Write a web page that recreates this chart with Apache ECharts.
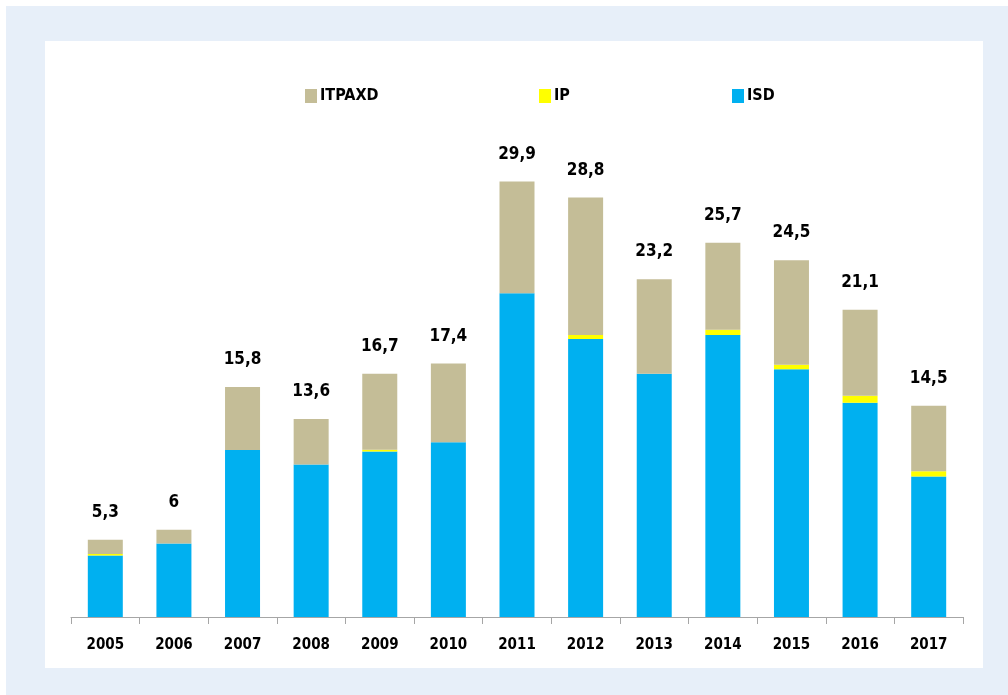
<!DOCTYPE html>
<html>
<head>
<meta charset="utf-8">
<script src="https://cdn.jsdelivr.net/npm/echarts@6/dist/echarts.min.js"></script>
<style>
	html, body { margin: 0; padding: 0; background: #fff; }
	.frame { position: absolute; left: 6px; top: 6px; width: 1002px; height: 689px; background: #E7EFF9; }
	.panel { position: absolute; left: 45px; top: 41px; width: 938px; height: 627px; background: #fff; }
	#chart { position: absolute; left: 0; top: 0; width: 1008px; height: 695px; }
</style>
</head>
<body>
<div class="frame"></div>
<div class="panel"></div>
<div id="chart"></div>
<script>
	// data
	var years = ['2005', '2006', '2007', '2008', '2009', '2010', '2011', '2012', '2013', '2014', '2015', '2016', '2017'];
	var isd = [4.22, 5.04, 11.46, 10.47, 11.37, 12.00, 22.23, 19.09, 16.70, 19.36, 17.02, 14.71, 9.65];
	var ip = [0.11, 0, 0, 0, 0.11, 0, 0, 0.27, 0, 0.36, 0.30, 0.48, 0.36];
	var itpaxd = [0.97, 0.96, 4.34, 3.13, 5.22, 5.40, 7.67, 9.44, 6.50, 5.98, 7.18, 5.91, 4.49];
	var totalLabels = ['5,3', '6', '15,8', '13,6', '16,7', '17,4', '29,9', '28,8', '23,2', '25,7', '24,5', '21,1', '14,5'];

	var font = '"Liberation Sans Narrow", "DejaVu Sans Condensed", "Liberation Sans", sans-serif';

	// one legend per item so each sits where the original puts it
	function legendAt(name, left) {
		return {
			data: [name],
			left: left,
			top: 83,
			icon: 'rect',
			itemWidth: 12,
			itemHeight: 14,
			selectedMode: false,
			textStyle: { fontFamily: font, fontWeight: 'bold', fontSize: 16, color: '#000', padding: [0, 0, 0, -2] }
		};
	}

	var chart = echarts.init(document.getElementById('chart'));
	chart.setOption({
		backgroundColor: 'transparent',
		animation: false,
		legend: [legendAt('ITPAXD', 300), legendAt('IP', 534), legendAt('ISD', 727)],
		grid: { left: 71, right: 45, top: 151, bottom: 78, containLabel: false },
		xAxis: {
			type: 'category',
			data: years,
			axisLine: { lineStyle: { color: '#A6A6A6', width: 1 } },
			axisTick: { show: true, length: 7, lineStyle: { color: '#A6A6A6' } },
			axisLabel: { margin: 21, fontFamily: font, fontWeight: 'bold', fontSize: 15, color: '#000' }
		},
		yAxis: {
			type: 'value',
			min: 0,
			max: 32,
			show: false,
			splitLine: { show: false }
		},
		series: [
			{
				name: 'ISD', type: 'bar', stack: 'total', barWidth: 35,
				itemStyle: { color: '#00B0F0' },
				data: isd
			},
			{
				name: 'IP', type: 'bar', stack: 'total', barWidth: 35,
				itemStyle: { color: '#FFFF00' },
				data: ip
			},
			{
				name: 'ITPAXD', type: 'bar', stack: 'total', barWidth: 35,
				itemStyle: { color: '#C4BD97' },
				label: {
					show: true,
					position: 'top',
					distance: 19,
					fontFamily: font,
					fontWeight: 'bold',
					fontSize: 17,
					color: '#000',
					formatter: function (p) { return totalLabels[p.dataIndex]; }
				},
				data: itpaxd
			}
		]
	});
</script>
</body>
</html>
